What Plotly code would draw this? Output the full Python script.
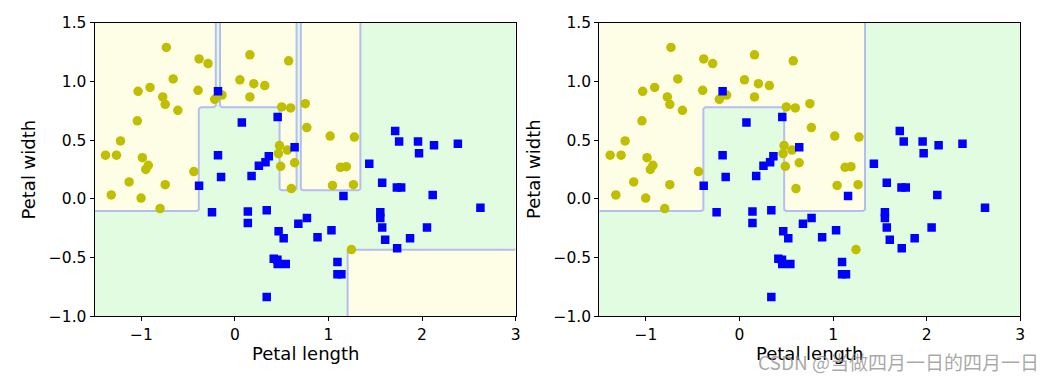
import numpy as np
import plotly.graph_objects as go

# ---- data (moons-like dataset) ----
yellow_x = [-0.733, -0.383, -0.287, 0.160, 0.574, -0.660, -1.035, -0.907, -0.772, -0.745,
            -0.610, -0.394, -0.216, -0.138, 0.053, 0.202, 0.319, 0.160, 0.500, 0.596,
            0.752, 0.768, -1.043, -1.223, -1.383, -1.266, -0.989, -0.926, -0.953, -0.439,
            0.476, 0.465, 0.561, 0.489, 0.638, 1.018, 1.277, 1.128, 1.191, -1.131,
            -1.322, -1.003, -0.745, -0.800, 0.603, 1.043, 1.267, 1.245]
yellow_y = [1.290, 1.192, 1.152, 1.227, 1.176, 1.022, 0.916, 0.949, 0.868, 0.805,
            0.754, 0.925, 0.848, 0.884, 1.014, 0.981, 0.965, 0.868, 0.783, 0.775,
            0.811, 0.608, 0.665, 0.494, 0.373, 0.373, 0.351, 0.286, 0.251, 0.233,
            0.454, 0.386, 0.416, 0.278, 0.308, 0.535, 0.527, 0.269, 0.275, 0.145,
            0.034, 0.007, 0.121, -0.082, 0.088, 0.115, 0.121, -0.431]

blue_x = [-0.181, 0.074, 0.457, -0.181, 0.638, 0.362, 0.327, 0.256, -0.383, -0.148,
          0.178, -0.245, 0.138, 0.138, 0.340, 0.467, 0.521, 0.678, 0.770, 0.415,
          0.457, 0.543, 0.454, 0.340, 1.713, 1.755, 1.957, 1.968, 2.128, 2.383,
          1.436, 1.160, 1.574, 1.731, 1.777, 2.114, 2.624, 0.883, 1.032, 1.554,
          1.554, 1.574, 1.606, 1.872, 2.053, 1.734, 1.096, 1.096, 1.138]
blue_y = [0.916, 0.651, 0.697, 0.373, 0.440, 0.364, 0.312, 0.283, 0.113, 0.186,
          0.196, -0.114, -0.106, -0.204, -0.096, -0.274, -0.334, -0.212, -0.163, -0.510,
          -0.553, -0.553, -0.518, -0.834, 0.578, 0.489, 0.489, 0.389, 0.456, 0.470,
          0.300, 0.026, 0.137, 0.097, 0.097, 0.034, -0.074, -0.325, -0.266, -0.114,
          -0.163, -0.244, -0.347, -0.334, -0.244, -0.420, -0.537, -0.642, -0.642]

x_ticks = [-1, 0, 1, 2, 3]
y_ticks = [-1.0, -0.5, 0.0, 0.5, 1.0, 1.5]
x_label = "Petal length"
y_label = "Petal width"
watermark = "CSDN @当做四月一日的四月一日"

# ---- decision tree thresholds ----
T_Y_LOW = -0.093
T_X_A = -0.39
T_X_B = 0.472
T_Y_BOX = 0.79
T_STRIP1 = (-0.20, -0.16)
T_STRIP2 = (0.655, 0.70)
T_Y_MID = 0.061
T_X_C = 1.333
T_X_D = 1.20
T_Y_D = -0.43


def predict_unrestricted(x, y):
    if y < T_Y_LOW:
        if x > T_X_D and y < T_Y_D:
            return 0
        return 1
    if x < T_X_A:
        return 0
    if x < T_X_B:
        if y < T_Y_BOX:
            return 1
        return 1 if T_STRIP1[0] < x < T_STRIP1[1] else 0
    if x < T_X_C:
        if y < T_Y_MID:
            return 1
        return 1 if T_STRIP2[0] < x < T_STRIP2[1] else 0
    return 1


def predict_min_leaf(x, y):
    if y < T_Y_LOW:
        return 1
    if x < T_X_A:
        return 0
    if x < T_X_B:
        return 1 if y < T_Y_BOX else 0
    if x < T_X_C:
        return 0
    return 1


gx = np.linspace(-1.5, 3, 100)
gy = np.linspace(-1, 1.5, 100)
Z1 = np.array([[predict_unrestricted(a, b) for a in gx] for b in gy])
Z2 = np.array([[predict_min_leaf(a, b) for a in gx] for b in gy])

YEL = "#fefee7"
GRN = "#e2fce2"
LINE = "#b6bdf0"

fig = go.Figure()
for Z, xa, ya in [(Z1, "x", "y"), (Z2, "x2", "y2")]:
    fig.add_trace(go.Contour(
        x=gx, y=gy, z=Z, xaxis=xa, yaxis=ya,
        contours=dict(start=0.5, end=0.5, size=1, coloring="fill"),
        colorscale=[[0, YEL], [0.5, YEL], [0.5, GRN], [1, GRN]],
        zmin=0, zmax=1,
        line=dict(color=LINE, width=2, smoothing=0),
        showscale=False, hoverinfo="skip"))
    fig.add_trace(go.Scatter(x=yellow_x, y=yellow_y, xaxis=xa, yaxis=ya, mode="markers",
                             marker=dict(symbol="circle", size=9.5, color="#bfbf00"),
                             showlegend=False))
    fig.add_trace(go.Scatter(x=blue_x, y=blue_y, xaxis=xa, yaxis=ya, mode="markers",
                             marker=dict(symbol="square", size=8.5, color="#0000ff"),
                             showlegend=False))

W, H = 1059, 388
OFF = 8  # page body margin: the figure is drawn 8px right and down


def px_x(v):
    return (v - OFF) / W


def px_y(v):
    return 1 - (v - OFF) / H


ydom = [px_y(322), px_y(14)]
axis_common = dict(showline=True, mirror=True, linecolor="black", linewidth=1,
                   ticks="outside", ticklen=4, tickcolor="black", showgrid=False,
                   zeroline=False, ticklabeloverflow="allow",
                   tickfont=dict(family="DejaVu Sans", size=15.5, color="black"))

fig.update_layout(
    width=W, height=H, margin=dict(l=0, r=0, t=0, b=0),
    paper_bgcolor="white", plot_bgcolor="white", showlegend=False,
    xaxis=dict(domain=[px_x(95), px_x(518)], range=[-1.5, 3], tickvals=x_ticks, **axis_common),
    yaxis=dict(domain=ydom, range=[-1, 1.5], tickvals=y_ticks, tickformat=".1f", **axis_common),
    xaxis2=dict(domain=[px_x(602), px_x(1025)], range=[-1.5, 3], tickvals=x_ticks, anchor="y2", **axis_common),
    yaxis2=dict(domain=ydom, range=[-1, 1.5], tickvals=y_ticks, tickformat=".1f", anchor="x2", **axis_common),
)

lab_font = dict(family="DejaVu Sans", size=18, color="black")
for xc in [(95 + 518) / 2, (602 + 1025) / 2]:
    fig.add_annotation(x=px_x(xc), y=px_y(361), xref="paper", yref="paper", text=x_label,
                       showarrow=False, font=lab_font, xanchor="center", yanchor="middle")
for xc in [29, 536]:
    fig.add_annotation(x=px_x(xc), y=px_y(168), xref="paper", yref="paper", text=y_label,
                       showarrow=False, font=lab_font, textangle=-90, xanchor="center", yanchor="middle")

fig.add_annotation(x=px_x(1046), y=px_y(369), xref="paper", yref="paper", text=watermark,
                   showarrow=False, xanchor="right", yanchor="middle",
                   font=dict(family="Noto Sans CJK SC", size=19, color="rgba(140,140,140,0.75)"))

fig.write_html("out.html")
